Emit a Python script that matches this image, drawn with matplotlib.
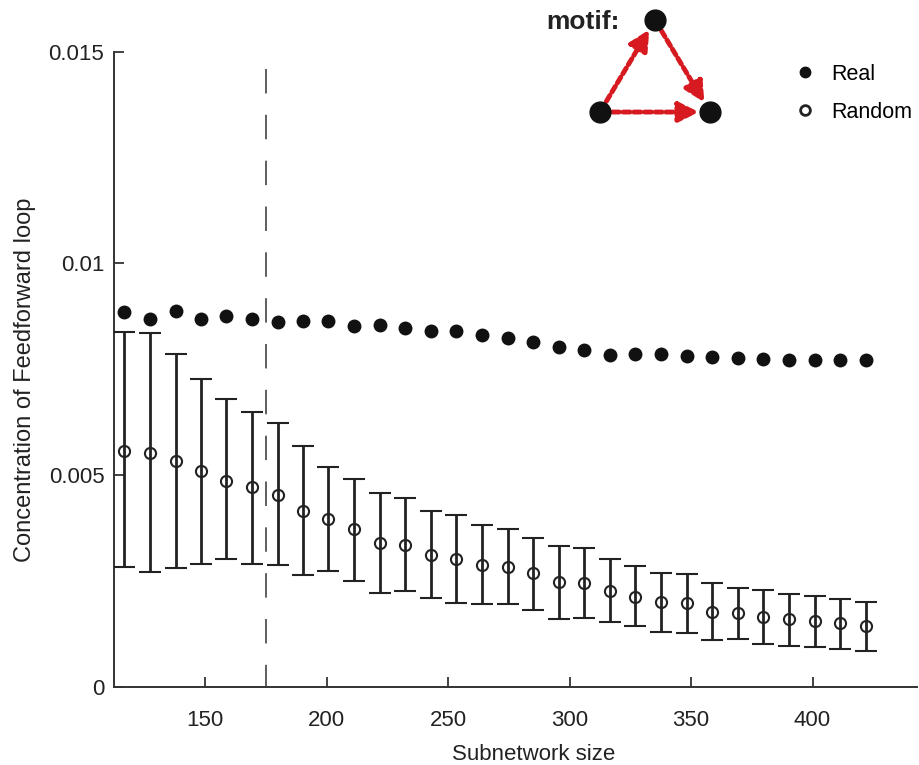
import numpy as np
import matplotlib
matplotlib.use("Agg")
from matplotlib import pyplot as plt
from matplotlib.lines import Line2D

plt.rcParams['font.family'] = ['Liberation Sans', 'DejaVu Sans']

##############################################
# Data
# 

sizes = [116.5, 127.2, 137.8, 148.1, 158.5, 169.2, 179.8, 190.3, 200.7, 211.3,
         221.9, 232.3, 242.8, 253.4, 264.1, 274.7, 284.9, 295.5, 306.1, 316.6,
         327.1, 337.6, 348.3, 358.8, 369.3, 379.7, 390.5, 401.0, 411.4, 422.0]

real = [8.84, 8.68, 8.87, 8.68, 8.76, 8.68, 8.61, 8.64, 8.63, 8.53,
        8.54, 8.48, 8.41, 8.41, 8.31, 8.23, 8.14, 8.03, 7.95, 7.83,
        7.86, 7.86, 7.81, 7.79, 7.76, 7.73, 7.72, 7.72, 7.72, 7.72]

rand_mean = [5.57, 5.53, 5.33, 5.10, 4.87, 4.71, 4.54, 4.16, 3.96, 3.72,
             3.39, 3.35, 3.12, 3.02, 2.87, 2.83, 2.68, 2.47, 2.44, 2.26,
             2.13, 1.99, 1.97, 1.77, 1.73, 1.64, 1.59, 1.56, 1.50, 1.43]

rand_upper = [8.38, 8.35, 7.87, 7.27, 6.79, 6.50, 6.22, 5.68, 5.20, 4.91,
              4.58, 4.45, 4.15, 4.06, 3.82, 3.72, 3.52, 3.32, 3.28, 3.01,
              2.85, 2.69, 2.66, 2.44, 2.32, 2.28, 2.18, 2.15, 2.06, 1.99]

rand_lower = [2.82, 2.72, 2.80, 2.91, 3.01, 2.91, 2.88, 2.65, 2.73, 2.49,
              2.22, 2.25, 2.10, 1.98, 1.95, 1.95, 1.81, 1.59, 1.63, 1.52,
              1.43, 1.30, 1.28, 1.10, 1.12, 1.00, 0.97, 0.93, 0.89, 0.85]

cutoff = 175          # dashed vertical line
x_ticks = [150, 200, 250, 300, 350, 400]
y_ticks = [0, 0.005, 0.01, 0.015]
y_ticklabels = ["0", "0.005", "0.01", "0.015"]

# values above are in units of 1e-3
real = np.array(real) * 1e-3
rand_mean = np.array(rand_mean) * 1e-3
rand_upper = np.array(rand_upper) * 1e-3
rand_lower = np.array(rand_lower) * 1e-3

##############################################
# Main panel
# 

W, H = 920, 765
ink = "#222222"
fig = plt.figure(figsize=(W / 100, H / 100), dpi=100)
ax = fig.add_axes([114 / W, 1 - 686.7 / H, (917 - 114) / W, (686.7 - 51.7) / H])

# drawn top-down so the dash pattern starts at the top, like the reference
ax.plot([cutoff, cutoff], [0.0146, 0], color="#333333", lw=1.1,
        dashes=(16, 14), zorder=1)

ax.errorbar(sizes, rand_mean, yerr=[rand_mean - rand_lower, rand_upper - rand_mean],
            fmt="o", mfc="none", mec=ink, mew=1.5, ms=8,
            ecolor=ink, elinewidth=2.0, capsize=8, capthick=2.0, zorder=3)
ax.plot(sizes, real, "o", color="#111111", ms=9, zorder=4)

ax.set_xlim(112.4, 443)
ax.set_ylim(0, 0.015)
ax.set_xticks(x_ticks)
ax.set_yticks(y_ticks)
ax.set_yticklabels(y_ticklabels)
ax.tick_params(direction="in", length=7, width=1.2, labelsize=16, colors=ink)
ax.tick_params(axis="y", pad=7)
ax.tick_params(axis="x", pad=17)
for s in ["top", "right"]:
    ax.spines[s].set_visible(False)
for s in ["left", "bottom"]:
    ax.spines[s].set_linewidth(1.4)
    ax.spines[s].set_color("#333333")

ax.set_xlabel("Subnetwork size", fontsize=16, color=ink)
ax.set_ylabel("Concentration of Feedforward loop", fontsize=17, color=ink)
ax.xaxis.set_label_coords(0.523, -0.09)
ax.yaxis.set_label_coords(-0.097, 0.483)

legend_items = [
    Line2D([], [], ls="", marker="o", ms=7.5, color="#111111"),
    Line2D([], [], ls="", marker="o", ms=7, mfc="none", mec=ink, mew=2),
]
ax.legend(legend_items, ["Real", "Random"], loc="upper left",
          bbox_to_anchor=(786 / W, 1 - 53 / H), bbox_transform=fig.transFigure,
          frameon=False, fontsize=15.5, borderpad=0, handletextpad=0.8,
          labelspacing=0.8, handlelength=0.8)

##############################################
# Motif sketch (inset)
# 

ins = fig.add_axes([580 / W, 1 - 125 / H, 150 / W, 120 / H])
ins.set_xlim(0, 1)
ins.set_ylim(0, 1)
ins.axis("off")

nodes = {"top": (0.5, 0.875), "left": (0.133, 0.108), "right": (0.867, 0.108)}
edges = [("left", "top"), ("top", "right"), ("left", "right")]
red = "#d71920"
for a, b in edges:
    ins.annotate("", xy=nodes[b], xytext=nodes[a],
                 arrowprops=dict(arrowstyle="-|>", color=red, lw=3.5,
                                 linestyle=(0, (1.4, 0.8)),
                                 mutation_scale=30, shrinkA=9, shrinkB=8))
for k, (x, y) in nodes.items():
    ins.plot(x, y, "o", color="#111111", ms=15, zorder=5)

fig.text(620 / W, 1 - 22 / H, "motif:", fontsize=19, fontweight="bold",
         ha="right", va="center", color=ink)

fig.savefig("out.png", dpi=100)
